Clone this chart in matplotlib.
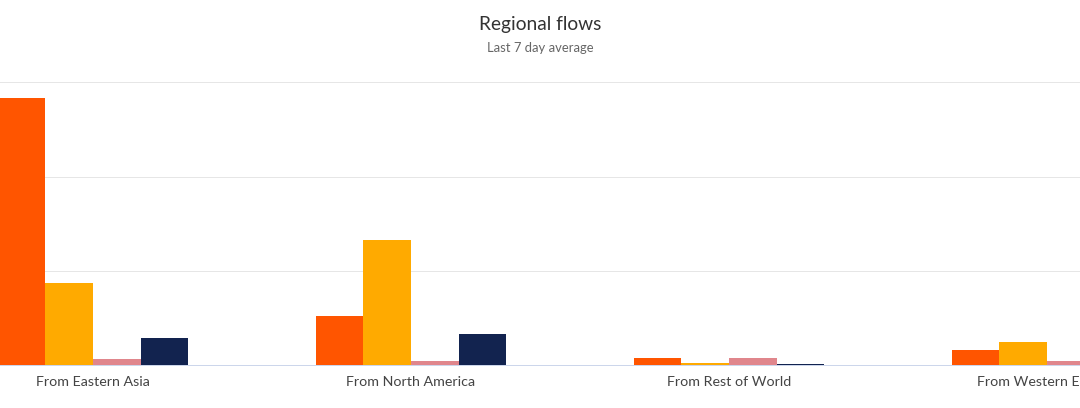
import matplotlib
matplotlib.use('Agg')
import matplotlib.pyplot as plt
import numpy as np

plt.rcParams['font.family'] = ['Lato', 'DejaVu Sans']

regions = ['From Eastern Asia', 'From North America', 'From Rest of World', 'From Western Europe']
series_a = [283.5, 52, 7.5, 16]
series_b = [87, 132.5, 2.5, 24.5]
series_c = [6.5, 4.5, 7.5, 4.5]
series_d = [29, 33, 1, 12]
colors = ['#ff5500', '#ffaa00', '#e0868c', '#12234f']

fig = plt.figure(figsize=(10.8, 4.08), dpi=100)
ax = fig.add_axes([0, 1 - 365.4 / 408, 1, 283 / 408])

x = np.arange(len(regions))
w = 0.15
for i, vals in enumerate([series_a, series_b, series_c, series_d]):
    ax.bar(x + (i - 1.5) * w, vals, w, color=colors[i], zorder=2)

ax.set_xlim(-93 / 318, 987 / 318)
ax.set_ylim(0, 300)
ax.set_yticks([100, 200, 300])
ax.set_yticklabels([])
ax.yaxis.grid(True, color='#e6e6e6', lw=0.72)
ax.set_axisbelow(True)
ax.tick_params(length=0)
ax.set_xticks(x)
ax.set_xticklabels(regions, fontsize=10.25, color='#444444')
ax.tick_params(axis='x', pad=7.8)
for s in ['top', 'left', 'right']:
    ax.spines[s].set_visible(False)
ax.spines['bottom'].set_color('#ccd6eb')
ax.spines['bottom'].set_linewidth(0.72)

fig.text(540 / 1080, 1 - 24.5 / 408, 'Regional flows', ha='center', va='center',
         fontsize=13.8, color='#333333')
fig.text(540 / 1080, 1 - 48 / 408, 'Last 7 day average', ha='center', va='center',
         fontsize=9.35, color='#666666')

fig.savefig('out.png', dpi=100)
